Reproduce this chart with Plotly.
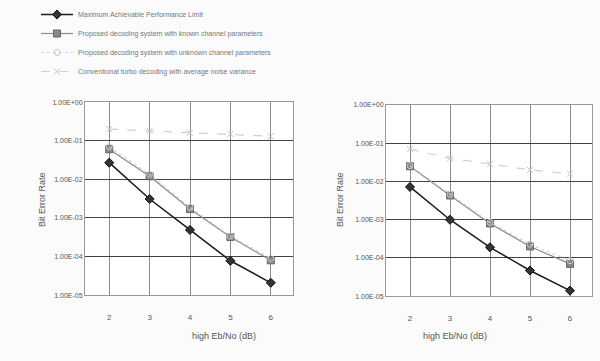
import plotly.graph_objects as go

snr = [2, 3, 4, 5, 6]

# Left chart
left_max = [2.7e-2, 3.1e-3, 4.9e-4, 7.8e-5, 2.1e-5]
left_known = [6.0e-2, 1.2e-2, 1.7e-3, 3.2e-4, 8.0e-5]
left_unknown = [7.0e-2, 1.35e-2, 1.9e-3, 3.4e-4, 9.0e-5]
left_conv = [0.20, 0.18, 0.16, 0.15, 0.13]

# Right chart
right_max = [7.2e-3, 1.0e-3, 1.9e-4, 4.7e-5, 1.4e-5]
right_known = [2.5e-2, 4.3e-3, 8.0e-4, 2.0e-4, 7.0e-5]
right_unknown = [2.6e-2, 4.6e-3, 8.5e-4, 2.3e-4, 8.5e-5]
right_conv = [7.0e-2, 4.0e-2, 2.9e-2, 2.0e-2, 1.6e-2]

names = [
    "Maximum Achievable Performance Limit",
    "Proposed decoding system with known channel parameters",
    "Proposed decoding system with unknown channel parameters",
    "Conventional turbo decoding with average noise variance",
]
ytickvals = [1, 1e-1, 1e-2, 1e-3, 1e-4, 1e-5]
yticktext = ["1.00E+00", "1.00E-01", "1.00E-02", "1.00E-03", "1.00E-04", "1.00E-05"]

styles = [
    dict(line=dict(color="#1a1a1a", width=1.5), marker=dict(symbol="diamond", size=7, color="#333", line=dict(color="#111", width=1))),
    dict(line=dict(color="#8a8a8a", width=1.2), marker=dict(symbol="square", size=7, color="#8a8a8a", line=dict(color="#666", width=1))),
    dict(line=dict(color="#d4d4d4", width=1.2, dash="dot"), marker=dict(symbol="circle-open", size=6, color="#c8c8c8")),
    dict(line=dict(color="#cfcfcf", width=1.2, dash="dash"), marker=dict(symbol="x-thin-open", size=6, color="#c0c0c0", line=dict(color="#c0c0c0", width=1))),
]

fig = go.Figure()
left = [left_max, left_known, left_unknown, left_conv]
right = [right_max, right_known, right_unknown, right_conv]
for i, (n, ys) in enumerate(zip(names, left)):
    fig.add_trace(go.Scatter(x=snr, y=ys, name=n, mode="lines+markers", xaxis="x", yaxis="y",
                             showlegend=True, **styles[i]))
for i, (n, ys) in enumerate(zip(names, right)):
    fig.add_trace(go.Scatter(x=snr, y=ys, name=n, mode="lines+markers", xaxis="x2", yaxis="y2",
                             showlegend=False, **styles[i]))

font = dict(family="Liberation Sans, Arial, sans-serif", size=8, color="#555")
xcommon = dict(range=[1.4, 6.55], tickvals=snr, ticktext=[str(v) for v in snr], showgrid=True,
               gridcolor="#8c8c8c", gridwidth=1, dtick=0.5, showline=True, linecolor="#999",
               mirror=True, ticks="", ticklabelstandoff=14, tickfont=font, zeroline=False)
ycommon = dict(type="log", range=[-5, 0], tickvals=ytickvals, ticktext=yticktext, showgrid=True,
               gridcolor="#444", gridwidth=1, showline=True, linecolor="#999", mirror=True,
               ticks="", tickfont=dict(family="Liberation Sans, Arial, sans-serif", size=7, color="#555"),
               zeroline=False)

fig.update_layout(
    width=600, height=361,
    margin=dict(l=0, r=0, t=0, b=0),
    paper_bgcolor="#fbfbfb",
    plot_bgcolor="#ffffff",
    font=font,
    xaxis=dict(domain=[85/600, 293/600], anchor="y", **xcommon),
    yaxis=dict(domain=[1 - 297/361, 1 - 100/361], anchor="x", **ycommon),
    xaxis2=dict(domain=[386/600, 592/600], anchor="y2", **xcommon),
    yaxis2=dict(domain=[1 - 298/361, 1 - 103/361], anchor="x2", **ycommon),
    legend=dict(x=0.06, y=1.012, xanchor="left", yanchor="top", bgcolor="rgba(0,0,0,0)",
                font=dict(family="Liberation Sans, Arial, sans-serif", size=7, color="#777"),
                itemwidth=32, tracegroupgap=0),
    showlegend=True,
)

for xc in [35, 340]:
    fig.add_annotation(x=xc/600, y=1 - 200/361, xref="paper", yref="paper", text="Bit Error Rate",
                       textangle=-90, showarrow=False, font=dict(family="Liberation Sans, Arial, sans-serif", size=9, color="#555"))
for xc in [190, 489]:
    fig.add_annotation(x=xc/600, y=1 - 346/361, xref="paper", yref="paper", text="high Eb/No (dB)",
                       showarrow=False, font=dict(family="Liberation Sans, Arial, sans-serif", size=9, color="#555"))

fig.write_html("out.html")
